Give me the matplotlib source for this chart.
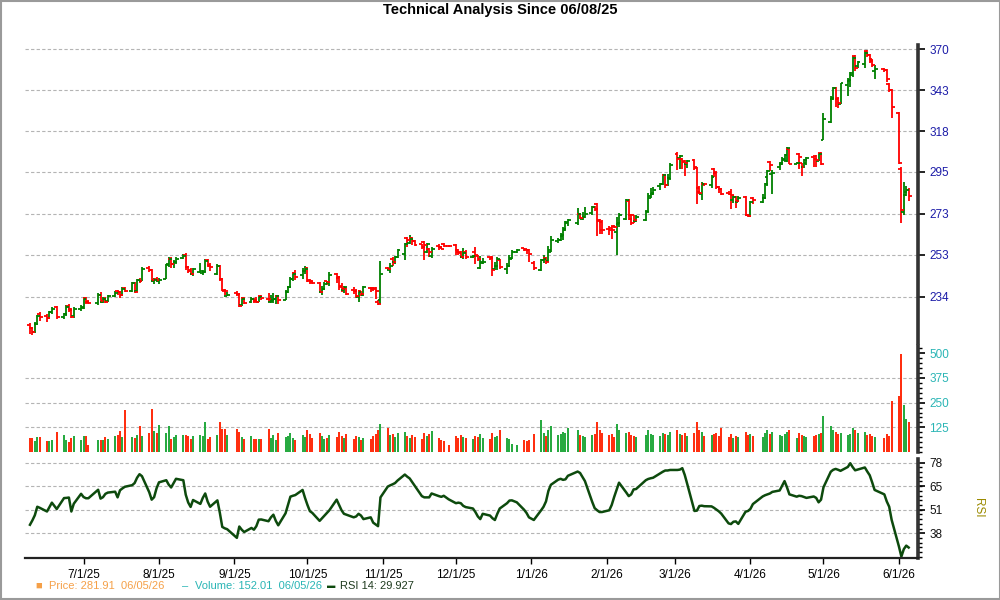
import numpy as np
import pandas as pd
import matplotlib
matplotlib.use("Agg")
import matplotlib.pyplot as plt
import matplotlib.dates as mdates
from matplotlib.patches import Rectangle
from matplotlib.ticker import FixedLocator, MultipleLocator, FuncFormatter, NullLocator

plt.rcParams['font.family'] = ['Liberation Sans', 'DejaVu Sans']

# trading days 06/09/25 .. 06/05/26 (exchange holidays removed)
holidays = ["2025-06-19", "2025-07-04", "2025-09-01", "2025-11-27", "2025-12-25",
            "2026-01-01", "2026-01-19", "2026-02-16", "2026-04-03", "2026-05-25"]
days = pd.bdate_range("2025-06-09", "2026-06-05", freq="C", holidays=holidays)

opens = [
    # jun
    222.0, 221.0, 219.5, 222.5, 226.8, 226.0, 225.0, 227.5, 229.5, 225.5, 226.8, 230.0, 228.8, 225.8, 229.0,
    # jul
    229.5, 233.5, 232.0, 231.5, 235.0, 232.0, 233.2, 232.2, 234.6, 236.5, 236.0, 234.8, 238.0, 236.8, 240.0,
    236.5, 241.5, 241.2, 246.8, 246.0, 241.0, 242.0,
    # aug
    241.0, 242.0, 248.5, 251.2, 248.5, 249.5, 251.5, 253.0, 247.5, 246.0, 244.0, 245.0, 244.5, 245.2, 250.5,
    248.2, 244.0, 248.0, 241.8, 237.0, 234.5,
    # sep
    235.8, 235.0, 230.5, 233.5, 231.8, 233.0, 232.2, 232.0, 234.2, 233.2, 232.0, 232.4, 233.0, 234.2, 232.8,
    236.0, 238.5, 242.0, 244.5, 243.5, 245.5,
    # oct
    246.8, 241.5, 241.0, 240.0, 236.0, 237.5, 240.8, 240.0, 244.0, 242.5, 239.0, 237.0, 237.8, 237.0, 236.5,
    234.0, 236.5, 235.0, 238.0, 237.8, 238.0, 232.0, 232.5,
    # nov
    247.0, 246.0, 251.0, 249.5, 251.8, 253.5, 261.0, 258.5, 261.0, 259.5, 258.0, 259.0, 254.5, 255.5, 252.5,
    257.0, 256.8, 258.0, 257.3,
    # dec
    257.8, 255.0, 254.5, 252.0, 254.5, 251.8, 254.5, 253.0, 247.0, 249.0, 251.8, 252.0, 246.5, 248.0, 250.5,
    246.5, 248.0, 251.5, 254.3, 256.0, 255.5, 255.2,
    # jan
    249.0, 246.0, 250.5, 251.5, 250.0, 255.0, 259.5, 260.0, 262.0, 265.0, 268.5, 268.5, 272.8, 270.2, 271.5,
    273.2, 276.5, 278.0, 270.0, 269.0,
    # feb
    265.5, 266.0, 266.8, 264.0, 268.0, 270.5, 279.5, 272.1, 272.1, 269.2, 269.7, 274.5, 281.0, 283.0, 287.0,
    288.5, 293.0, 288.0, 291.5,
    # mar
    304.5, 302.5, 302.0, 301.0, 299.0, 301.5, 297.0, 286.0, 283.0, 288.5, 288.0, 296.5, 294.5, 286.5, 285.8,
    283.5, 284.0, 280.0, 281.5, 279.0, 281.5, 272.5,
    # apr
    272.0, 281.0, 279.0, 281.0, 292.0, 300.4, 293.5, 297.5, 299.0, 301.5, 301.0, 307.5, 299.2, 305.0, 299.5,
    297.8, 299.5, 303.2, 303.5, 301.0, 305.5,
    # may
    312.7, 323.5, 337.5, 344.5, 337.5, 334.5, 346.5, 348.5, 353.0, 365.5, 358.5, 360.0, 368.5, 366.0, 363.0,
    355.0, 356.5, 356.0, 347.0, 343.0,
    # jun
    328.9, 296.7, 274.0, 282.5, 285.0,
]

highs = [
    223.0, 221.5, 223.2, 226.5, 227.5, 226.8, 228.0, 229.6, 230.2, 227.2, 230.5, 231.0, 229.2, 229.5, 230.5,
    233.8, 234.0, 232.8, 235.5, 236.0, 234.0, 233.8, 235.0, 236.5, 237.2, 236.5, 238.2, 238.5, 240.5, 240.5,
    242.0, 242.5, 247.5, 247.8, 246.5, 242.5, 242.8,
    242.5, 248.8, 251.8, 251.8, 250.5, 252.0, 253.5, 253.8, 248.0, 247.0, 247.0, 249.0, 245.8, 251.0, 250.8,
    249.0, 248.5, 248.3, 242.2, 237.5, 236.2,
    236.5, 235.5, 233.8, 234.0, 233.8, 233.5, 234.0, 234.2, 234.8, 235.8, 235.0, 235.5, 235.0, 234.8, 237.0,
    239.0, 243.0, 245.0, 245.8, 246.8, 247.8,
    247.2, 242.0, 241.5, 240.5, 239.0, 240.5, 241.2, 245.0, 244.5, 243.2, 240.0, 239.0, 238.0, 238.5, 237.5,
    237.0, 236.8, 239.0, 238.5, 238.2, 238.5, 232.5, 250.2,
    247.2, 249.0, 251.8, 252.5, 255.5, 258.5, 261.5, 262.5, 261.5, 259.8, 258.2, 259.5, 258.5, 256.0, 256.5,
    258.0, 257.2, 258.5, 257.5,
    258.2, 255.5, 254.8, 256.0, 255.0, 253.0, 256.5, 253.0, 252.6, 251.5, 252.0, 252.3, 249.5, 252.0, 251.0,
    249.0, 253.0, 255.0, 255.8, 256.3, 255.8, 255.5,
    250.0, 251.0, 253.0, 252.0, 257.0, 262.0, 261.0, 263.5, 266.5, 269.5, 270.5, 276.0, 273.5, 274.0, 276.5,
    277.0, 276.8, 278.5, 270.5, 270.0,
    267.0, 267.0, 267.2, 271.5, 273.5, 280.2, 280.2, 272.8, 272.5, 272.1, 274.5, 283.8, 286.2, 286.8, 289.0,
    293.5, 293.5, 293.5, 299.5,
    306.0, 304.0, 302.3, 301.5, 301.5, 302.0, 297.6, 287.0, 289.5, 289.0, 293.0, 296.8, 295.0, 287.0, 286.0,
    283.8, 285.5, 282.4, 281.8, 282.0, 282.0, 272.8,
    279.5, 281.5, 283.0, 289.0, 296.0, 301.0, 296.0, 300.5, 303.0, 304.5, 308.5, 308.0, 300.2, 305.5, 299.9,
    302.0, 303.0, 303.5, 304.0, 305.5, 306.0,
    329.0, 339.0, 344.8, 344.8, 338.0, 347.5, 351.0, 354.5, 365.5, 366.0, 362.0, 368.5, 369.5, 366.5, 363.5,
    359.5, 357.0, 356.5, 347.5, 343.5,
    329.5, 297.5, 289.4, 287.5, 286.0,
]

lows = [
    218.5, 218.2, 219.0, 222.0, 224.0, 223.5, 224.5, 226.8, 224.8, 224.6, 226.0, 227.6, 225.0, 225.0, 228.2,
    229.0, 230.8, 230.8, 230.5, 231.5, 231.2, 231.2, 231.8, 233.8, 235.0, 233.5, 234.2, 236.0, 236.2, 235.5,
    236.0, 240.0, 241.0, 245.0, 240.5, 239.8, 240.5,
    239.5, 241.8, 247.5, 247.0, 246.8, 248.5, 251.0, 246.0, 244.8, 243.5, 243.2, 244.5, 243.8, 245.0, 247.2,
    245.5, 243.5, 241.2, 236.5, 234.8, 234.2,
    234.8, 229.8, 230.0, 231.0, 231.2, 231.5, 231.2, 231.8, 232.5, 231.8, 231.5, 231.2, 231.0, 230.8, 232.5,
    235.5, 238.0, 241.0, 241.5, 242.0, 244.0,
    240.5, 239.8, 239.5, 235.5, 235.0, 237.0, 239.2, 239.0, 240.0, 237.0, 236.0, 235.5, 235.0, 235.2, 233.5,
    232.0, 234.5, 234.5, 236.0, 236.5, 233.0, 230.5, 231.0,
    245.8, 244.5, 248.0, 248.8, 251.5, 250.5, 256.4, 258.0, 257.5, 257.0, 255.8, 250.5, 254.0, 252.0, 251.5,
    255.0, 255.5, 256.8, 256.5,
    253.0, 252.8, 251.5, 251.0, 251.2, 251.5, 248.5, 250.0, 246.5, 248.5, 250.5, 243.3, 245.8, 246.0, 246.5,
    244.0, 247.5, 251.0, 254.0, 254.8, 253.5, 249.5,
    246.0, 245.5, 249.0, 248.5, 249.5, 254.5, 258.5, 259.5, 260.0, 264.5, 267.0, 267.5, 270.5, 269.8, 271.0,
    272.5, 274.5, 262.0, 263.0, 262.8,
    262.5, 260.5, 265.8, 253.0, 266.5, 270.0, 269.7, 267.1, 268.1, 268.8, 269.5, 274.0, 281.0, 282.4, 285.0,
    288.0, 286.0, 287.0, 291.0,
    296.0, 296.5, 296.5, 292.8, 297.0, 296.0, 277.8, 282.8, 279.8, 287.5, 286.0, 292.0, 285.5, 283.5, 282.5,
    282.5, 275.5, 278.5, 276.0, 278.8, 272.0, 271.2,
    271.5, 278.0, 278.5, 280.5, 287.0, 295.3, 283.2, 295.8, 298.8, 301.0, 300.5, 299.0, 299.0, 296.7, 292.5,
    297.0, 298.5, 297.6, 297.3, 300.8, 298.8,
    312.5, 323.0, 336.5, 332.5, 332.0, 334.0, 339.5, 345.0, 351.5, 355.5, 357.0, 357.5, 364.5, 360.5, 358.0,
    350.0, 354.5, 348.0, 341.5, 326.0,
    299.0, 268.4, 272.1, 282.0, 279.5,
]

closes = [
    220.8, 219.2, 222.6, 225.9, 225.3, 224.9, 227.4, 228.8, 225.6, 226.6, 229.9, 228.5, 225.6, 228.8, 229.2,
    233.0, 232.0, 231.3, 234.7, 232.2, 233.0, 232.0, 234.4, 235.8, 236.1, 234.7, 237.6, 236.8, 239.9, 236.1,
    241.3, 241.0, 246.5, 246.0, 241.6, 241.6, 241.3,
    241.6, 248.1, 251.0, 248.8, 249.6, 251.1, 252.6, 247.2, 245.7, 244.2, 246.5, 245.7, 245.0, 250.3, 248.0,
    247.2, 248.0, 241.7, 236.8, 236.4, 234.9,
    235.3, 230.3, 233.2, 231.5, 233.2, 232.5, 232.0, 233.9, 233.5, 232.9, 232.5, 233.2, 234.6, 232.5, 236.1,
    238.3, 242.0, 244.2, 242.7, 245.7, 246.5,
    241.2, 240.5, 240.2, 236.1, 237.5, 239.8, 240.5, 243.6, 242.8, 238.3, 237.3, 238.3, 235.3, 236.8, 234.3,
    236.1, 235.3, 238.3, 237.6, 237.3, 236.8, 231.0, 244.2,
    246.5, 248.0, 249.8, 251.8, 255.0, 258.2, 259.8, 260.5, 259.3, 257.4, 256.6, 257.4, 258.2, 254.2, 255.5,
    256.6, 255.8, 257.1, 256.9,
    254.5, 253.9, 251.8, 253.9, 251.8, 252.3, 252.6, 251.2, 249.4, 249.8, 251.5, 246.0, 248.0, 251.1, 247.5,
    247.8, 251.1, 254.2, 255.4, 255.2, 255.0, 253.4,
    246.9, 250.5, 251.1, 249.4, 254.2, 259.8, 260.2, 262.3, 265.5, 268.8, 270.0, 272.6, 271.0, 271.5, 273.0,
    276.1, 275.1, 269.3, 265.0, 264.7,
    264.7, 265.0, 266.4, 268.1, 272.1, 279.8, 270.5, 268.1, 269.7, 271.3, 273.8, 282.0, 283.6, 285.0, 288.5,
    293.0, 287.6, 291.2, 298.5,
    302.2, 303.6, 300.4, 299.5, 301.0, 297.6, 284.2, 283.6, 288.5, 288.2, 292.1, 294.8, 286.7, 285.8, 283.2,
    283.0, 282.4, 281.5, 279.3, 281.2, 272.1, 271.6,
    278.8, 280.1, 281.0, 288.5, 295.3, 298.5, 294.4, 299.5, 302.2, 304.1, 307.9, 299.1, 299.9, 303.2, 297.6,
    301.6, 302.8, 302.2, 301.6, 304.7, 299.1,
    325.4, 338.3, 344.0, 337.7, 334.6, 347.2, 349.4, 354.1, 363.7, 357.0, 361.4, 367.0, 365.9, 362.1, 359.2,
    356.3, 355.9, 350.4, 343.0, 332.5,
    299.5, 274.6, 284.2, 285.0, 281.91,
]

volumes = [
    71, 71, 54, 74, 74, 54, 54, 63, 100, 85, 63, 49, 71, 80, 63,
    80, 80, 34, 63, 63, 63, 74, 68, 80, 88, 108, 74, 215, 74, 71, 88, 130, 80, 95, 220, 108, 95,
    135, 98, 130, 64, 74, 88, 85, 85, 80, 68, 80, 85, 80, 151, 68, 74, 85, 151, 119, 119, 85,
    114, 100, 74, 68, 80, 68, 64, 64, 64, 114, 70, 85, 60, 95, 75, 80, 95, 70, 60, 85, 75,
    110, 90, 70, 95, 80, 65, 70, 85, 75, 100, 80, 70, 90, 65, 80, 75, 60, 70, 65, 80, 90, 110, 140,
    120, 85, 90, 75, 95, 100, 80, 70, 85, 75, 65, 95, 80, 90, 105, 70, 60, 55, 35,
    80, 70, 85, 75, 70, 65, 80, 75, 90, 70, 65, 95, 75, 80, 110, 70, 65, 40, 35, 60, 55, 60,
    90, 160, 95, 80, 110, 130, 85, 90, 100, 95, 120, 110, 85, 80, 75, 85, 90, 150, 110, 95,
    85, 90, 75, 140, 110, 95, 100, 85, 80, 75, 85, 110, 90, 85, 80, 95, 90, 85, 100,
    110, 90, 85, 95, 80, 95, 150, 110, 100, 80, 85, 90, 95, 80, 120, 75, 90, 70, 80, 75, 100, 85,
    90, 80, 75, 95, 110, 90, 100, 85, 80, 90, 100, 110, 70, 95, 85, 80, 75, 80, 85, 90, 95,
    180, 130, 110, 100, 90, 95, 85, 90, 120, 110, 95, 100, 85, 90, 80, 75, 71, 91, 80, 257,
    282, 499, 240, 169, 152.01,
]

rsi14 = [
    42.8, 45.3, 48.2, 53.0, 52.4, 50.3, 52.8, 55.3, 51.7, 57.9, 58.0, 58.2, 50.3, 54.7, 60.3,
    58.5, 57.8, 57.8, 62.6, 57.6, 58.4, 60.3, 61.0, 61.5, 58.3, 62.3, 63.4, 64.3, 65.2, 66.4,
    69.4, 71.4, 70.3, 61.2, 57.0, 58.4, 63.4,
    66.8, 68.0, 65.5, 63.9, 66.3, 68.8, 68.0, 59.8, 55.4, 52.9, 56.8, 54.6, 58.0, 60.5, 55.9,
    53.0, 56.6, 49.6, 41.6, 40.8, 40.3,
    35.4, 41.8, 40.0, 38.7, 41.0, 40.0, 42.0, 45.7, 45.8, 44.8, 47.0, 48.5, 45.0, 42.5, 49.3,
    54.0, 58.7, 59.2, 59.6, 62.5, 58.0,
    54.0, 50.5, 49.5, 45.0, 46.5, 48.0, 49.5, 51.0, 57.0, 54.0, 51.0, 49.0, 48.5, 47.0, 47.5,
    49.0, 48.0, 46.0, 47.0, 44.0, 43.0, 42.0, 58.3,
    64.4, 65.1, 65.7, 66.4, 67.8, 71.2, 70.0, 69.0, 67.0, 65.0, 59.0, 58.3, 58.3, 58.3, 60.5,
    59.0, 58.6, 59.2, 57.2,
    55.0, 55.3, 55.0, 53.5, 52.8, 52.0, 50.0, 47.5, 46.0, 49.0, 48.0, 46.5, 45.5, 49.0, 52.0,
    55.0, 56.5, 56.6, 55.5, 51.3, 49.5, 47.0,
    45.5, 51.0, 53.0, 56.0, 62.0, 65.4, 68.3, 68.8, 68.2, 68.5, 70.5, 72.9, 72.1, 69.8, 67.5,
    55.7, 52.2, 51.0, 50.0, 50.0,
    51.0, 54.0, 58.5, 62.5, 66.6, 61.0, 59.0, 60.0, 62.8, 63.0, 68.0, 68.7, 69.1, 69.4, 72.0,
    72.8, 73.5, 73.5, 73.8,
    73.8, 74.0, 74.8, 71.0, 66.0, 50.6, 50.8, 53.4, 53.6, 53.3, 53.2, 52.4, 51.4, 50.4, 49.1,
    43.6, 43.2, 44.5, 44.7, 43.3, 50.2, 50.6,
    51.8, 54.5, 58.8, 59.5, 60.0, 60.5, 61.4, 62.2, 64.8, 67.5, 64.0, 60.0, 58.7, 59.2, 59.0,
    58.5, 58.0, 58.8, 58.0, 55.5, 57.0,
    64.0, 72.8, 73.9, 74.4, 73.9, 73.3, 75.5, 77.6, 75.4, 73.6, 74.0, 75.2, 72.9, 70.8, 66.8,
    62.5, 60.0, 56.0, 53.0, 45.6,
    30.5, 24.8, 29.0, 31.0, 29.927,
]

price_ticks = [234, 253, 273, 295, 318, 343, 370]
vol_ticks = [125, 250, 375, 500]
rsi_ticks = [38, 51.33, 64.67, 78]
rsi_labels = ["38", "51", "65", "78"]

for name, arr in [("opens", opens), ("highs", highs), ("lows", lows), ("closes", closes),
                  ("volumes", volumes), ("rsi14", rsi14)]:
    assert len(arr) == len(days), (name, len(arr), len(days))

x = mdates.date2num(days.to_pydatetime())
o = np.array(opens); h = np.array(highs); l = np.array(lows); c = np.array(closes)
up = c >= o
bar_col = np.where(up, "#008000", "#ff0000")
vol_col = np.where(up, "#22a83c", "#ff2a0a")

fig = plt.figure(figsize=(10, 6), dpi=100)
L, W = 25 / 1000, 893 / 1000
ax_p = fig.add_axes([L, 1 - 343 / 600, W, 298 / 600])
ax_v = fig.add_axes([L, 1 - 452 / 600, W, 106 / 600], sharex=ax_p)
ax_r = fig.add_axes([L, 1 - 558 / 600, W, 99 / 600], sharex=ax_p)

# OHLC bars: open tick left, close tick right
ax_p.vlines(x, l, h, colors=bar_col, lw=1.3)
ax_p.hlines(o, x - 1.2, x, colors=bar_col, lw=1.3)
ax_p.hlines(c, x, x + 1.2, colors=bar_col, lw=1.3)
ax_p.set_yscale("log")
ax_p.set_ylim(214.9, 372.8)
ax_p.yaxis.set_major_locator(FixedLocator(price_ticks))
ax_p.yaxis.set_minor_locator(NullLocator())
ax_p.yaxis.set_major_formatter(FuncFormatter(lambda v, p: f"{v:.0f}"))
for t in price_ticks:
    ax_p.axhline(t, color="#b4b4b4", lw=0.8, ls=(0, (3, 2)), zorder=0)

# volume
ax_v.vlines(x, 0, volumes, colors=vol_col, lw=1.4)
ax_v.set_ylim(0, 537)
ax_v.yaxis.set_major_locator(FixedLocator(vol_ticks))
ax_v.yaxis.set_minor_locator(MultipleLocator(25))
for t in vol_ticks[:-1]:
    ax_v.axhline(t, color="#b4b4b4", lw=0.8, ls=(0, (3, 2)), zorder=0)

# RSI
ax_r.plot(x, rsi14, color="#0d4a0d", lw=1.8)
ax_r.set_ylim(24, 80)
ax_r.set_yticks(rsi_ticks, rsi_labels)
ax_r.yaxis.set_minor_locator(FixedLocator([38 + k * 40 / 15 for k in range(-5, 16)]))
for t in rsi_ticks:
    ax_r.axhline(t, color="#b4b4b4", lw=0.8, ls=(0, (3, 2)), zorder=0)

months = pd.date_range("2025-07-01", "2026-06-01", freq="MS")
ax_r.xaxis.set_major_locator(FixedLocator(mdates.date2num(months.to_pydatetime())))
ax_r.xaxis.set_major_formatter(FuncFormatter(
    lambda v, p: (lambda d: f"{d.month}/{d.day}/{d.year % 100}")(mdates.num2date(v))))
ax_r.set_xlim(mdates.date2num(pd.Timestamp("2025-06-06 23:00").to_pydatetime()),
              mdates.date2num(pd.Timestamp("2026-06-08 20:00").to_pydatetime()))

label_cols = {ax_p: "#1c1ca8", ax_v: "#2ab5b5", ax_r: "#111111"}
for ax in (ax_p, ax_v, ax_r):
    ax.set_facecolor("white")
    for s in ("left", "top", "bottom"):
        ax.spines[s].set_visible(False)
    ax.spines["right"].set_linewidth(2.6)
    ax.spines["right"].set_color("#333333")
    ax.yaxis.tick_right()
    ax.tick_params(axis="y", which="major", length=5, width=1.2, labelsize=8.5,
                   labelcolor=label_cols[ax], pad=3)
    ax.tick_params(axis="y", which="minor", length=3, width=1.0)
    if ax is not ax_r:
        ax.tick_params(axis="x", bottom=False, labelbottom=False)

ax_r.spines["bottom"].set_visible(True)
ax_r.spines["bottom"].set_linewidth(1.6)
ax_r.spines["bottom"].set_color("#222222")
ax_r.tick_params(axis="x", length=4, width=1.0, labelsize=8.5, pad=4)

fig.text(978 / 1000, 1 - 508 / 600, "RSI", rotation=270, color="#9a8a00", fontsize=8.5,
         ha="center", va="center")

fig.text(0.5, 1 - 10 / 600, "Technical Analysis Since 06/08/25", ha="center", va="center",
         fontsize=10.5, fontweight="bold")

# legend line at the bottom
ly = 1 - 586 / 600
fig.text(35 / 1000, ly, "\u25A0", color="#f5a048", fontsize=8, va="center")
fig.text(49 / 1000, ly, "Price: 281.91  06/05/26", color="#f5a048", fontsize=8, va="center")
fig.text(182 / 1000, ly, "\u2013", color="#2ab5b5", fontsize=8, va="center")
fig.text(195 / 1000, ly, "Volume: 152.01  06/05/26", color="#2ab5b5", fontsize=8, va="center")
fig.text(327 / 1000, ly, "\u25AC", color="#0d4a0d", fontsize=6, va="center")
fig.text(340 / 1000, ly, "RSI 14: 29.927", color="#1e3a1e", fontsize=8, va="center")

fig.patches.append(Rectangle((0.0005, 0.001), 0.999, 0.998, transform=fig.transFigure,
                             fill=False, ec="#9a9a9a", lw=1.5))

fig.savefig("out.png", dpi=100)
